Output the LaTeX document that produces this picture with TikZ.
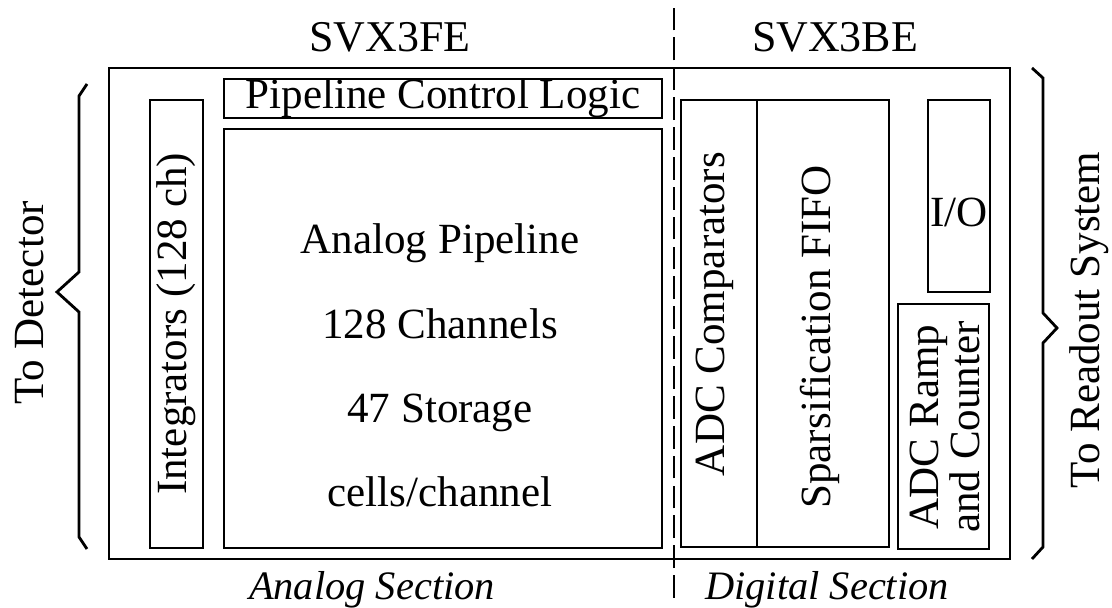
\documentclass[tikz,border=0pt]{standalone}
\usepackage{fontspec}
\setmainfont{Liberation Serif}
\begin{document}
\begin{tikzpicture}[line width=1.6pt,
  txt/.style={inner sep=0pt, font=\fontsize{24.5}{28}\selectfont},
  vtxt/.style={txt, rotate=90}]
  \useasboundingbox (0,0) rectangle (22.24,12.16);
  % dimensions
  \def\xa{2.18}  % bord gauche du boîtier
  \def\xb{20.20} % bord droit du boîtier
  \def\ya{0.98}  % bas du boîtier
  \def\yb{10.80} % haut du boîtier
  \def\xs{13.48} % séparation FE / BE

  % boîtier et séparation
  \draw (\xa,\ya) rectangle (\xb,\yb);
  \draw[line width=1pt, dash pattern=on 13pt off 4pt] (\xs,0.20) -- (\xs,12.06);

  % partie analogique
  \draw (4.48,9.80) rectangle (13.24,10.58);
  \draw (4.48,1.20) rectangle (13.24,9.58);
  \draw (3.00,1.20) rectangle (4.06,10.16);
  \node[txt] (pcl) at (8.86,10.19) {Pipeline Control Logic};
  \node[vtxt] (integ) at (3.53,5.68) {Integrators (128 ch)};
  \node[txt, align=center, font=\fontsize{24.5}{48}\selectfont] (pipe) at (8.80,4.85)
    {Analog Pipeline\\128 Channels\\47 Storage\\cells/channel};

  % partie numérique
  \draw (13.62,1.22) rectangle (15.14,10.16);
  \draw (15.14,1.22) rectangle (17.78,10.16);
  \draw (18.56,6.32) rectangle (19.80,10.16);
  \draw (17.96,1.18) rectangle (19.78,6.08);
  \node[vtxt] (comp) at (14.30,5.88) {ADC Comparators};
  \node[vtxt] (fifo) at (16.40,5.42) {Sparsification FIFO};
  \node[txt] (io) at (19.18,7.92) {I/O};
  \node[vtxt, align=center, font=\fontsize{24.5}{21}\selectfont] (ramp) at (18.90,3.62)
    {ADC Ramp\\and Counter};

  % accolades
  \draw (1.74,10.48) -- (1.58,10.24) -- (1.58,6.72) -- (1.14,6.32)
        -- (1.58,5.92) -- (1.58,1.42) -- (1.74,1.18);
  \draw (20.64,10.80) -- (20.86,10.60) -- (20.86,5.90) -- (21.14,5.60)
        -- (20.86,5.30) -- (20.86,1.22) -- (20.64,0.98);
  \node[vtxt] (det) at (0.60,6.10) {To Detector};
  \node[vtxt] (ro) at (21.78,5.76) {To Readout System};

  % titres
  \node[txt, font=\fontsize{25}{28}\selectfont] (fe) at (7.80,11.42) {SVX3FE};
  \node[txt, font=\fontsize{25}{28}\selectfont] (be) at (16.70,11.42) {SVX3BE};
  \node[txt, font=\fontsize{23}{26}\itshape] (ana) at (7.44,0.36) {Analog Section};
  \node[txt, font=\fontsize{23}{26}\itshape] (dig) at (16.54,0.36) {Digital Section};
\end{tikzpicture}
\end{document}
